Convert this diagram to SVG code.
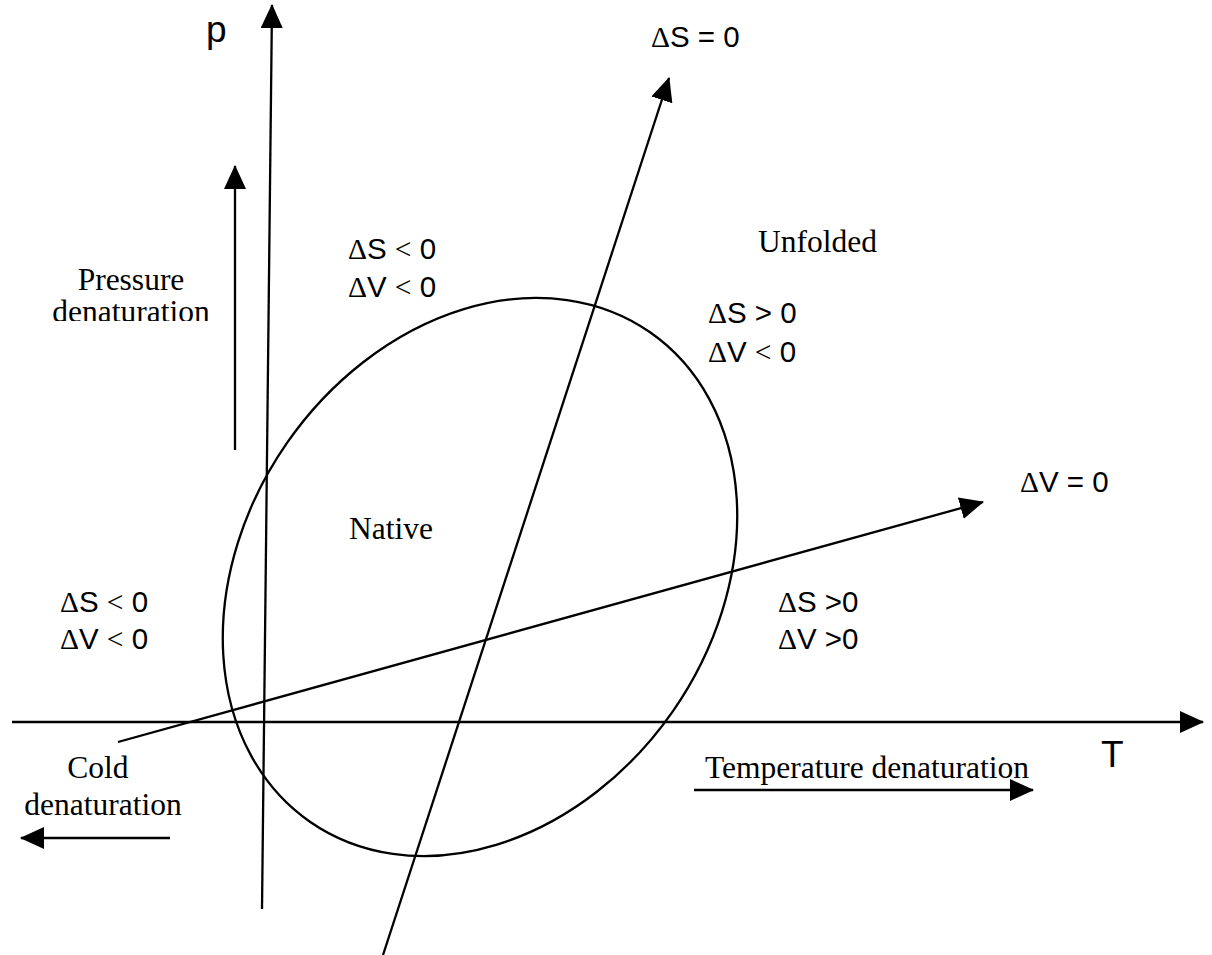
<svg xmlns="http://www.w3.org/2000/svg" width="1212" height="955" viewBox="0 0 1212 955">
<style>
.ln{stroke:#000;stroke-width:2.3;fill:none}
.arr{marker-end:url(#ah)}
.sans{font-family:"Liberation Sans",Arial,sans-serif;font-size:29.5px;fill:#000}
.big{font-family:"Liberation Sans",Arial,sans-serif;font-size:37px;fill:#000}
.serif{font-family:"Liberation Serif","Times New Roman",serif;font-size:31.5px;fill:#000}
.sym{font-family:"Liberation Serif","Times New Roman",serif}
</style>
<defs>
<marker id="ah" markerUnits="userSpaceOnUse" markerWidth="24" markerHeight="22" refX="23" refY="11" orient="auto" viewBox="0 0 24 22">
<path d="M0,0 L24,11 L0,22 z" fill="#000"/>
</marker>
<clipPath id="clipP"><rect x="0" y="0" width="300" height="321"/></clipPath>
</defs>
<rect width="1212" height="955" fill="#fff"/>
<g id="ellipse">
<ellipse class="ln" cx="480" cy="577" rx="298" ry="235" transform="rotate(-55.2 480 577)"/>
</g>
<g id="connectors">
<line id="T-axis" class="ln arr" x1="12" y1="722" x2="1203" y2="722"/>
<line id="p-axis" class="ln arr" x1="262" y1="909" x2="272" y2="5"/>
<line id="dS0-line" class="ln arr" x1="383" y1="955" x2="669" y2="78"/>
<line id="dV0-line" class="ln arr" x1="118" y1="742" x2="983" y2="502"/>
<line id="pressure-arrow" class="ln arr" x1="235" y1="450" x2="235" y2="166"/>
<line id="cold-arrow" class="ln arr" x1="170" y1="838" x2="21" y2="838"/>
<line id="temp-arrow" class="ln arr" x1="694" y1="790" x2="1033" y2="790"/>
</g>
<g id="axis-labels">
<text class="big" x="206" y="42">p</text>
<text class="big" x="1101" y="767">T</text>
</g>
<g id="line-labels">
<text class="sans" x="651" y="47"><tspan class="sym">Δ</tspan>S = 0</text>
<text class="sans" x="1020" y="492"><tspan class="sym">Δ</tspan>V = 0</text>
</g>
<g id="region-top-left">
<text class="sans" x="348" y="259"><tspan class="sym">Δ</tspan>S <tspan class="sym">&lt;</tspan> 0</text>
<text class="sans" x="348" y="297"><tspan class="sym">Δ</tspan>V <tspan class="sym">&lt;</tspan> 0</text>
</g>
<g id="region-unfolded">
<text class="serif" x="758" y="252">Unfolded</text>
<text class="sans" x="708" y="323"><tspan class="sym">Δ</tspan>S &gt; 0</text>
<text class="sans" x="708" y="362"><tspan class="sym">Δ</tspan>V <tspan class="sym">&lt;</tspan> 0</text>
</g>
<g id="region-native">
<text class="serif" x="349" y="539">Native</text>
</g>
<g id="region-left">
<text class="sans" x="60" y="612"><tspan class="sym">Δ</tspan>S <tspan class="sym">&lt;</tspan> 0</text>
<text class="sans" x="60" y="649"><tspan class="sym">Δ</tspan>V <tspan class="sym">&lt;</tspan> 0</text>
</g>
<g id="region-right">
<text class="sans" x="778" y="612"><tspan class="sym">Δ</tspan>S &gt;0</text>
<text class="sans" x="778" y="649"><tspan class="sym">Δ</tspan>V &gt;0</text>
</g>
<g id="label-pressure" clip-path="url(#clipP)">
<text class="serif" x="131" y="290" text-anchor="middle">Pressure</text>
<text class="serif" x="131" y="322" text-anchor="middle">denaturation</text>
</g>
<g id="label-cold">
<text class="serif" x="98" y="778" text-anchor="middle">Cold</text>
<text class="serif" x="103" y="815" text-anchor="middle">denaturation</text>
</g>
<g id="label-temp">
<text class="serif" x="705" y="778">Temperature denaturation</text>
</g>
</svg>
